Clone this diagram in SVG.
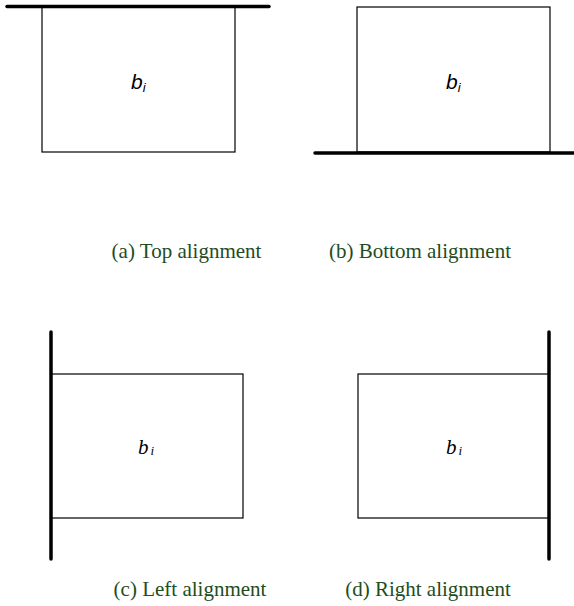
<svg xmlns="http://www.w3.org/2000/svg" width="574" height="606" viewBox="0 0 574 606">
<style>
.box{fill:#fff;stroke:#000;stroke-width:1.2}
.bar{stroke:#000;stroke-width:3.5;stroke-linecap:round}
.cap{font-family:"Liberation Serif",serif;font-size:21px;fill:#1e4d1e}
.lbs{font-family:"Liberation Sans",sans-serif;font-style:italic;font-size:21px;fill:#000}
.lbr{font-family:"Liberation Serif",serif;font-style:italic;font-size:21px;fill:#000}
</style>
<rect width="574" height="606" fill="#fff"/>
<g id="a">
<rect class="box" x="42" y="7" width="193" height="145"/>
<line class="bar" x1="7" y1="6.5" x2="269" y2="6.5"/>
<text class="lbs" x="131" y="89">b<tspan font-size="13" dy="3">i</tspan></text>
<text class="cap" x="186.5" y="258" text-anchor="middle">(a) Top alignment</text>
</g>
<g id="b">
<rect class="box" x="357" y="7" width="193" height="145"/>
<line class="bar" x1="315" y1="153" x2="574" y2="153"/>
<text class="lbs" x="446" y="89">b<tspan font-size="13" dy="3">i</tspan></text>
<text class="cap" x="420" y="258" text-anchor="middle">(b) Bottom alignment</text>
</g>
<g id="c">
<rect class="box" x="51" y="374" width="192" height="144"/>
<line class="bar" x1="51" y1="332" x2="51" y2="559"/>
<text class="lbr" x="138" y="454">b<tspan font-size="13" dy="1" dx="2">i</tspan></text>
<text class="cap" x="190" y="596" text-anchor="middle">(c) Left alignment</text>
</g>
<g id="d">
<rect class="box" x="358" y="374" width="191" height="144"/>
<line class="bar" x1="549" y1="332" x2="549" y2="559"/>
<text class="lbr" x="446" y="454">b<tspan font-size="13" dy="1" dx="2">i</tspan></text>
<text class="cap" x="428" y="596" text-anchor="middle">(d) Right alignment</text>
</g>
<g id="connectors"/>
</svg>
